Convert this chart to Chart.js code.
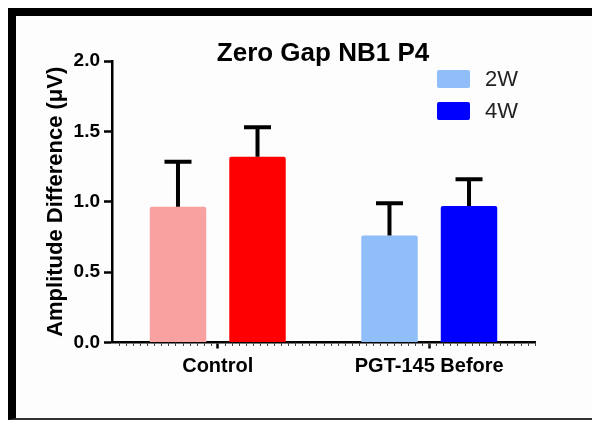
<!DOCTYPE html>
<html>
<head>
<meta charset="utf-8">
<script src="https://cdn.jsdelivr.net/npm/chart.js@4.4.1/dist/chart.umd.min.js"></script>
<style>
  html, body { margin: 0; padding: 0; background: #ffffff; overflow: hidden; }
  #frame {
    position: absolute; left: 8px; top: 8px;
    width: 576px; height: 402px;
    border-top: 8px solid #000; border-left: 8px solid #000; border-bottom: 2px solid #333;
    background: #fdfdfd;
  }
  canvas { display: block; }
</style>
</head>
<body>
<div id="frame"><canvas id="chart" width="576" height="402"></canvas></div>
<script>
// Group labels and series
const categories = ['Control', 'PGT-145 Before'];
const seriesLabels = ['2W', '4W'];
const chartTitle = 'Zero Gap NB1 P4';
const yAxisTitle = 'Amplitude Difference (\u03BCV)';

// Means and upper error (SEM) per group
const means2W = [0.965, 0.76];
const means4W = [1.32, 0.97];
const err2W = [0.32, 0.23];
const err4W = [0.21, 0.19];

// Per-group fill colours for each series
const colors2W = ['#F9A0A0', '#90BEF8'];
const colors4W = ['#FF0000', '#0000FF'];

// Y axis range
const yMin = 0, yMax = 2, yStep = 0.5;

const FONT = '"Liberation Sans", Arial, Helvetica, sans-serif';

const errorsBySeries = [err2W, err4W];

// Upward-only error bars with caps
const errorBarPlugin = {
  id: 'errorBars',
  afterDatasetsDraw(chart) {
    const ctx = chart.ctx;
    const y = chart.scales.y;
    ctx.save();
    ctx.strokeStyle = '#000';
    ctx.lineWidth = 4;
    ctx.lineCap = 'butt';
    chart.data.datasets.forEach((ds, di) => {
      const meta = chart.getDatasetMeta(di);
      meta.data.forEach((bar, i) => {
        const top = y.getPixelForValue(ds.data[i] + errorsBySeries[di][i]);
        ctx.beginPath();
        ctx.moveTo(bar.x, bar.y);
        ctx.lineTo(bar.x, top);
        ctx.moveTo(bar.x - 13.5, top);
        ctx.lineTo(bar.x + 13.5, top);
        ctx.stroke();
      });
    });
    ctx.restore();
  }
};

// Title, legend and minor x ticks
const decorPlugin = {
  id: 'decor',
  afterDraw(chart) {
    const ctx = chart.ctx;
    const area = chart.chartArea;
    ctx.save();
    // minor ticks under the x axis
    ctx.strokeStyle = '#444';
    ctx.lineWidth = 1;
    const n = 60;
    const step = (area.right - area.left) / n;
    for (let k = 1; k <= n; k++) {
      const x = Math.round(area.left + k * step) + 0.5;
      ctx.beginPath();
      ctx.moveTo(x, area.bottom);
      ctx.lineTo(x, area.bottom + 3.5);
      ctx.stroke();
    }
    // title
    ctx.fillStyle = '#000';
    ctx.font = 'bold 26px ' + FONT;
    ctx.textAlign = 'center';
    ctx.textBaseline = 'alphabetic';
    ctx.fillText(chartTitle, 307, 45);
    // legend
    ctx.font = '22px ' + FONT;
    ctx.textAlign = 'left';
    ctx.textBaseline = 'middle';
    const legendColors = [colors2W[1], colors4W[1]];
    seriesLabels.forEach((label, i) => {
      const bx = 421, by = 54 + i * 32;
      ctx.fillStyle = legendColors[i];
      ctx.beginPath();
      ctx.roundRect(bx, by, 33, 18, 2);
      ctx.fill();
      ctx.fillStyle = '#222';
      ctx.fillText(label, 469, by + 10);
    });
    ctx.restore();
  }
};

new Chart(document.getElementById('chart'), {
  type: 'bar',
  data: {
    labels: categories,
    datasets: [
      { label: seriesLabels[0], data: means2W, backgroundColor: colors2W, borderWidth: 0,
        borderRadius: { topLeft: 2, topRight: 2 }, borderSkipped: 'bottom' },
      { label: seriesLabels[1], data: means4W, backgroundColor: colors4W, borderWidth: 0,
        borderRadius: { topLeft: 2, topRight: 2 }, borderSkipped: 'bottom' }
    ]
  },
  options: {
    responsive: false,
    animation: false,
    devicePixelRatio: 1,
    categoryPercentage: 0.752,
    barPercentage: 0.71,
    layout: { padding: { left: 0, right: 57, top: 45, bottom: 0 } },
    plugins: {
      legend: { display: false },
      title: { display: false },
      tooltip: { enabled: false }
    },
    scales: {
      x: {
        offset: true,
        grid: { display: true, drawOnChartArea: false, drawTicks: true, offset: false,
                tickLength: 6, tickColor: '#000', tickWidth: 2.5 },
        border: { display: true, color: '#000', width: 2.5 },
        ticks: { color: '#000', padding: 6, font: { family: FONT, size: 20, weight: 'bold' } },
        afterFit(scale) { scale.height = 75.5; }
      },
      y: {
        min: yMin, max: yMax,
        grid: { display: true, drawOnChartArea: false, drawTicks: true,
                tickLength: 8, tickColor: '#000', tickWidth: 2.5 },
        border: { display: true, color: '#000', width: 2.5 },
        ticks: { stepSize: yStep, color: '#000', padding: 4,
                 font: { family: FONT, size: 19, weight: 'bold' },
                 callback: (v) => Number(v).toFixed(1) },
        title: { display: true, text: yAxisTitle, color: '#000',
                 font: { family: FONT, size: 22, weight: 'bold' },
                 padding: { top: 27, bottom: 0 } },
        afterFit(scale) { scale.width = 96; }
      }
    }
  },
  plugins: [errorBarPlugin, decorPlugin]
});
</script>
</body>
</html>
